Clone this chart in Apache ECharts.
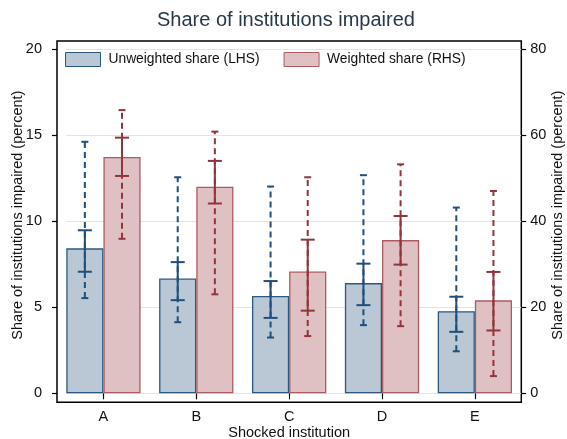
<!DOCTYPE html>
<html>
<head>
<meta charset="utf-8">
<script src="https://cdn.jsdelivr.net/npm/echarts@6/dist/echarts.min.js"></script>
<style>
html,body{margin:0;padding:0;background:#fff;}
#chart{width:567px;height:439px;}
</style>
</head>
<body>
<div id="chart"></div>
<script>
var categories = ['A', 'B', 'C', 'D', 'E'];
// Unweighted share (LHS, percent)
var unweighted = [8.42, 6.67, 5.65, 6.40, 4.77];
var unwInnerLo = [7.06, 5.41, 4.38, 5.12, 3.57];
var unwInnerHi = [9.47, 7.62, 6.52, 7.53, 5.61];
var unwOuterLo = [5.53, 4.13, 3.24, 3.96, 2.44];
var unwOuterHi = [14.61, 12.55, 12.01, 12.67, 10.79];
// Weighted share (RHS, percent)
var weighted = [54.9, 48.0, 28.3, 35.6, 21.6];
var wInnerLo = [50.5, 44.1, 19.2, 29.9, 14.6];
var wInnerHi = [59.4, 54.0, 35.7, 41.2, 28.2];
var wOuterLo = [35.9, 23.0, 13.3, 15.6, 4.0];
var wOuterHi = [65.8, 60.8, 50.2, 53.2, 47.0];
// Axis ticks
var leftTicks = [0, 5, 10, 15, 20];
var rightTicks = [0, 20, 40, 60, 80];

var FONT = 'Liberation Sans, Arial, Helvetica, sans-serif';
var BLUE = '#1f4f7c';
var RED = '#93333b';

function errRows(lo2, lo1, hi1, hi2) {
  return categories.map(function (c, i) { return [i, lo2[i], lo1[i], hi1[i], hi2[i]]; });
}

function makeErrRender(side, color) {
  return function (params, api) {
    var band = api.size([1, 0])[0];
    var barW = band * 0.8 / 2;
    var dx = side * barW / 2;
    var i = api.value(0);
    var pOL = api.coord([i, api.value(1)]);
    var pIL = api.coord([i, api.value(2)]);
    var pIH = api.coord([i, api.value(3)]);
    var pOH = api.coord([i, api.value(4)]);
    var x = pOL[0] + dx;
    var solid = {stroke: color, lineWidth: 2};
    var dashed = {stroke: color, lineWidth: 2, lineDash: [6, 4]};
    var oc = 3.5, ic = 7;
    return {
      type: 'group',
      children: [
        {type: 'line', shape: {x1: x, y1: pOL[1], x2: x, y2: pOH[1]}, style: dashed},
        {type: 'line', shape: {x1: x - oc, y1: pOL[1], x2: x + oc, y2: pOL[1]}, style: solid},
        {type: 'line', shape: {x1: x - oc, y1: pOH[1], x2: x + oc, y2: pOH[1]}, style: solid},
        {type: 'line', shape: {x1: x, y1: pIL[1], x2: x, y2: pIH[1]}, style: solid},
        {type: 'line', shape: {x1: x - ic, y1: pIL[1], x2: x + ic, y2: pIL[1]}, style: solid},
        {type: 'line', shape: {x1: x - ic, y1: pIH[1], x2: x + ic, y2: pIH[1]}, style: solid}
      ]
    };
  };
}

var chart = echarts.init(document.getElementById('chart'), null, {renderer: 'canvas'});
var labelStyle = {color: '#111', fontSize: 14.5, fontFamily: FONT};
var nameStyle = {color: '#111', fontSize: 14.5, fontFamily: FONT};

chart.setOption({
  animation: false,
  backgroundColor: '#fff',
  title: {
    text: 'Share of institutions impaired',
    left: 152, top: 5,
    textStyle: {color: '#27384a', fontSize: 20, fontWeight: 'normal', fontFamily: FONT}
  },
  legend: {
    left: 65, top: 52, padding: 0,
    icon: 'rect',
    itemWidth: 35, itemHeight: 14, itemGap: 24,
    itemStyle: {borderWidth: 1},
    data: ['Unweighted share (LHS)', 'Weighted share (RHS)'],
    textStyle: {color: '#111', fontSize: 13.8, fontFamily: FONT, padding: [0, 0, 0, 3]}
  },
  grid: [
    {left: 57, top: 49, width: 464.3, height: 344.3, containLabel: false, outerBoundsMode: 'none'},
    {left: 57, top: 41, width: 464.3, height: 361.3, show: true, borderColor: '#000', borderWidth: 1.5, backgroundColor: 'transparent', z: 0, containLabel: false, outerBoundsMode: 'none'},
    {left: 66, top: 49, width: 455.3, height: 344.3, containLabel: false, outerBoundsMode: 'none'}
  ],
  xAxis: [
    {
      gridIndex: 0, type: 'category', data: categories, offset: 9,
      axisLine: {show: false},
      axisTick: {show: true, inside: false, alignWithLabel: true, length: 6, lineStyle: {color: '#000', width: 1.2}},
      axisLabel: Object.assign({margin: 7, inside: false}, labelStyle),
      name: 'Shocked institution', nameLocation: 'middle', nameGap: 23, nameMoveOverlap: false,
      nameTextStyle: nameStyle
    },
    {gridIndex: 1, type: 'value', show: false, min: 0, max: 1},
    {gridIndex: 2, type: 'value', show: false, min: 0, max: 1}
  ],
  yAxis: [
    {
      gridIndex: 0, type: 'value', position: 'left',
      min: leftTicks[0], max: leftTicks[leftTicks.length - 1], interval: leftTicks[1] - leftTicks[0],
      axisLine: {show: false},
      axisTick: {show: true, inside: false, length: 5, lineStyle: {color: '#000', width: 1.2}},
      axisLabel: Object.assign({margin: 15, inside: false}, labelStyle),
      splitLine: {show: false},
      name: 'Share of institutions impaired (percent)', nameLocation: 'middle', nameGap: 32, nameRotate: 90,
      nameMoveOverlap: false,
      nameTextStyle: Object.assign({padding: [0, 0, 0, 12]}, nameStyle)
    },
    {
      gridIndex: 0, type: 'value', position: 'right',
      min: rightTicks[0], max: rightTicks[rightTicks.length - 1], interval: rightTicks[1] - rightTicks[0],
      axisLine: {show: false},
      axisTick: {show: true, inside: false, length: 5, lineStyle: {color: '#000', width: 1.2}},
      axisLabel: Object.assign({margin: 9, inside: false}, labelStyle),
      splitLine: {show: false},
      name: 'Share of institutions impaired (percent)', nameLocation: 'middle', nameGap: 29, nameRotate: 90,
      nameMoveOverlap: false,
      nameTextStyle: Object.assign({padding: [0, 0, 0, 12]}, nameStyle)
    },
    {gridIndex: 1, type: 'value', show: false, min: 0, max: 1},
    {
      gridIndex: 2, type: 'value',
      min: leftTicks[0], max: leftTicks[leftTicks.length - 1], interval: leftTicks[1] - leftTicks[0],
      axisLine: {show: false}, axisTick: {show: false}, axisLabel: {show: false},
      splitLine: {show: true, lineStyle: {color: '#e4e4e4', width: 1.2}}
    }
  ],
  series: [
    {
      name: 'Unweighted share (LHS)', type: 'bar', xAxisIndex: 0, yAxisIndex: 0,
      data: unweighted, barGap: '0%', barCategoryGap: '20%',
      itemStyle: {color: '#b9c8d4', borderColor: '#2b5882', borderWidth: 1.3},
      z: 2
    },
    {
      name: 'Weighted share (RHS)', type: 'bar', xAxisIndex: 0, yAxisIndex: 1,
      data: weighted, barGap: '0%', barCategoryGap: '20%',
      itemStyle: {color: '#dfc1c4', borderColor: '#ad5a61', borderWidth: 1.3},
      z: 2
    },
    {
      type: 'custom', xAxisIndex: 0, yAxisIndex: 0, z: 5,
      data: errRows(unwOuterLo, unwInnerLo, unwInnerHi, unwOuterHi),
      encode: {x: 0, y: [1, 2, 3, 4]},
      renderItem: makeErrRender(-1, BLUE)
    },
    {
      type: 'custom', xAxisIndex: 0, yAxisIndex: 1, z: 5,
      data: errRows(wOuterLo, wInnerLo, wInnerHi, wOuterHi),
      encode: {x: 0, y: [1, 2, 3, 4]},
      renderItem: makeErrRender(1, RED)
    }
  ]
});
</script>
</body>
</html>
